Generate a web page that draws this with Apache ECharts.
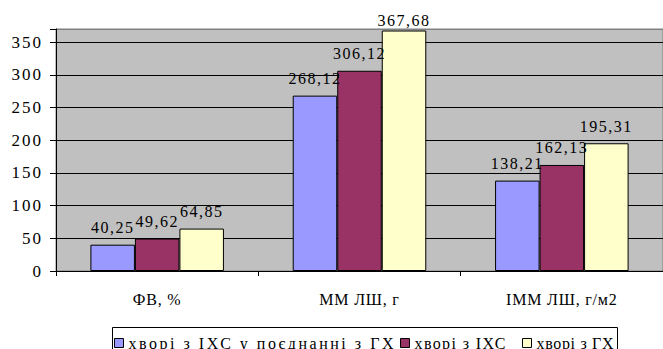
<!DOCTYPE html>
<html>
<head>
<meta charset="utf-8">
<script src="https://cdn.jsdelivr.net/npm/echarts@6/dist/echarts.min.js"></script>
<style>
  html, body { margin: 0; padding: 0; background: #fff; }
  #chart { width: 663px; height: 349px; }
  #chart text { font-family: 'Liberation Serif', serif !important; }
</style>
</head>
<body>
<div id="chart"></div>
<script>
// Categories along the x axis
const categories = ['ФВ, %', 'ММ ЛШ, г', 'ІММ ЛШ, г/м2'];

// Series names (legend)
const seriesNames = ['хворі з ІХС у поєднанні з ГХ', 'хворі з ІХС', 'хворі з ГХ'];

// Values per series, one per category
const ihsGh = [40.25, 268.12, 138.21];
const ihs = [49.62, 306.12, 162.13];
const gh = [64.85, 367.68, 195.31];

// Y axis tick values
const yTicks = [0, 50, 100, 150, 200, 250, 300, 350];

const seriesValues = [ihsGh, ihs, gh];
const seriesColors = ['#9999FF', '#993366', '#FFFFCC'];
const FONT = 'Liberation Serif';
const Y_MAX = 370;

const fmt = v => v.toFixed(2).replace('.', ',');

const series = seriesValues.map((vals, i) => ({
  name: seriesNames[i],
  type: 'bar',
  barGap: '0%',
  barCategoryGap: '34%',
  itemStyle: { color: seriesColors[i], borderColor: '#000', borderWidth: 1 },
  label: {
    show: true,
    position: 'top',
    distance: 9,
    fontFamily: FONT,
    fontSize: 16,
    color: '#000',
    formatter: p => fmt(p.value)
  },
  data: vals.map(v => ({
    value: v,
    // keep labels of the tallest bars inside the canvas
    label: v > Y_MAX - 10 ? { distance: 2 } : undefined
  }))
}));

// split line colours: black for the regular ticks, grey for the top edge
const splitColors = yTicks.map(() => '#000').concat(['#808080']);

// one legend entry per series, laid out along a single framed row
const legendLeft = [114, 400, 522];
const legends = seriesNames.map((name, i) => ({
  left: legendLeft[i],
  top: 335,
  padding: 0,
  itemWidth: 9,
  itemHeight: 9,
  icon: 'rect',
  z: 5,
  textStyle: { fontFamily: FONT, fontSize: 16, color: '#000' },
  itemStyle: { borderColor: '#000', borderWidth: 1 },
  data: [name]
}));

const chart = echarts.init(document.getElementById('chart'), null, { renderer: 'svg' });
chart.setOption({
  animation: false,
  backgroundColor: '#fff',
  grid: {
    left: 56, top: 29, right: -8, bottom: 78,
    show: true,
    backgroundColor: '#C0C0C0',
    borderColor: '#808080',
    borderWidth: 1
  },
  legend: legends,
  graphic: [{
    // frame around the legend row
    type: 'rect',
    z: 1,
    shape: { x: 112.5, y: 327.5, width: 505, height: 40 },
    style: { fill: '#fff', stroke: '#000', lineWidth: 1 }
  }],
  xAxis: {
    type: 'category',
    data: categories,
    axisLine: { lineStyle: { color: '#000', width: 1 } },
    axisTick: { show: true, length: 5, lineStyle: { color: '#000' } },
    axisLabel: { fontFamily: FONT, fontSize: 16, color: '#000', margin: 20 },
    splitLine: { show: false }
  },
  yAxis: {
    type: 'value',
    min: 0,
    max: Y_MAX,
    interval: 50,
    axisLine: { show: true, lineStyle: { color: '#000', width: 1 } },
    axisTick: { show: true, length: 6, lineStyle: { color: '#000' } },
    axisLabel: {
      fontFamily: FONT, fontSize: 17, color: '#000', margin: 13,
      formatter: v => (yTicks.indexOf(v) >= 0 ? String(v) : '')
    },
    splitLine: { show: true, lineStyle: { color: splitColors, width: 1 } }
  },
  series: series
});

// Spread the characters of the labels the way the printed chart does
const legendSpan = {};
legendSpan[seriesNames[0]] = 265;
legendSpan[seriesNames[1]] = 91;
legendSpan[seriesNames[2]] = 77;

function spaceText() {
  document.querySelectorAll('#chart text').forEach(t => {
    const s = t.textContent;
    let ls = null;
    if (legendSpan[s] != null) {
      t.style.letterSpacing = '0px';
      const nat = t.getComputedTextLength();
      ls = Math.max(0, (legendSpan[s] - nat) / Math.max(1, s.length - 1));
    } else if (/^\d+$/.test(s)) {
      ls = 2;
    } else if (/^\d+,\d+$/.test(s)) {
      ls = 1.5;
    } else if (categories.indexOf(s) >= 0) {
      ls = 0.8;
    }
    if (ls != null) t.style.letterSpacing = ls + 'px';
  });
}
spaceText();
chart.on('finished', spaceText);
</script>
</body>
</html>
